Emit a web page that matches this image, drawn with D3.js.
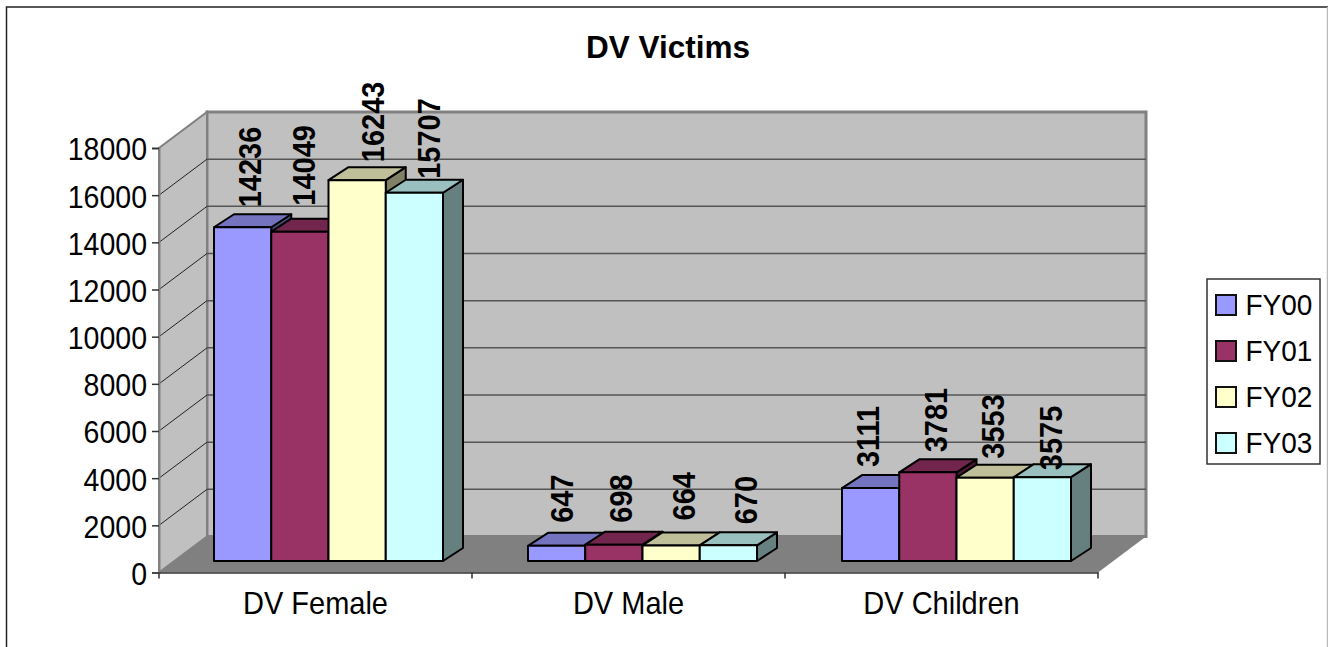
<!DOCTYPE html>
<html>
<head>
<meta charset="utf-8">
<script src="https://cdn.jsdelivr.net/npm/d3@7"></script>
<style>
    html, body { margin: 0; padding: 0; background: #fff; overflow: hidden; }
    text { font-family: "Liberation Sans", Arial, sans-serif; fill: #000; }
</style>
</head>
<body>
<div id="chart"></div>
<script>
const categories = ["DV Female", "DV Male", "DV Children"];
const seriesNames = ["FY00", "FY01", "FY02", "FY03"];
const seriesColors = ["#9999ff", "#993366", "#ffffcc", "#ccffff"];
const fy00 = [14236, 647, 3111];
const fy01 = [14049, 698, 3781];
const fy02 = [16243, 664, 3553];
const fy03 = [15707, 670, 3575];
const seriesValues = [fy00, fy01, fy02, fy03];
const yTicks = [0, 2000, 4000, 6000, 8000, 10000, 12000, 14000, 16000, 18000];

const width = 1328, height = 647;
const left = 159, right = 1098, top_ = 148, bottom = 572.5;
const wallDx = 48, wallDy = 36;   // profundidad de la caja 3D
const barDx = 20, barDy = 13;     // profundidad de cada barra
const barFloor = 561, barTop = 139;
const groupsLeft = 214, groupStep = 314, barWidth = 57.25;
const textStretch = "scale(1,1.07)";   // el texto original es algo mas alto que ancho

// Ajuste a mano de las etiquetas: una fila por categoria, una columna por serie
const labelDx = [[7, 4, 15.5, 14], [5.4, 7, 13, 17.6], [-3, 8, 8, 8]];
const labelGap = [[20, 26, 18, 14], [23, 22, 25, 21], [21, 20, 19, 7]];

const svg = d3.select("#chart").append("svg")
    .attr("width", width)
    .attr("height", height);

const x = d3.scaleBand().domain(categories).range([left, right]);
const xGroup = d3.scaleBand().domain(categories).range([groupsLeft, groupsLeft + groupStep * 3]);
const y = d3.scaleLinear().domain([0, 18000]).range([bottom, top_]);
const yBar = d3.scaleLinear().domain([0, 18000]).range([barFloor, barTop]);
const xBar = d3.scaleBand().domain(seriesNames).range([0, barWidth * 4]);

function poly(points) {
    return "M" + points.map(p => p.join(",")).join("L") + "Z";
}

// Marco exterior
svg.append("path")
    .attr("d", `M6.5,${height}V7H${width}`)
    .attr("fill", "none").attr("stroke", "#222").attr("stroke-width", 1.5);
svg.append("line")
    .attr("x1", width - 0.5).attr("x2", width - 0.5).attr("y1", 7).attr("y2", height)
    .attr("stroke", "#bbb").attr("stroke-width", 1.5);

svg.append("text")
    .attr("x", 668).attr("y", 57.5)
    .attr("text-anchor", "middle")
    .attr("font-size", 31.5).attr("font-weight", "bold")
    .text("DV Victims");

// Paredes y piso
svg.append("path")
    .attr("d", poly([[left + wallDx, y(0) - wallDy], [right + wallDx, y(0) - wallDy],
        [right + wallDx, y(18000) - wallDy], [left + wallDx, y(18000) - wallDy]]))
    .attr("fill", "#c0c0c0").attr("stroke", "#808080").attr("stroke-width", 3);
svg.append("path")
    .attr("d", poly([[left, y(0)], [left + wallDx, y(0) - wallDy],
        [left + wallDx, y(18000) - wallDy], [left, y(18000)]]))
    .attr("fill", "#c0c0c0").attr("stroke", "#808080").attr("stroke-width", 2);
svg.append("path")
    .attr("d", poly([[left, y(0)], [right, y(0)], [right + wallDx, y(0) - wallDy], [left + wallDx, y(0) - wallDy]]))
    .attr("fill", "#808080");

// Rejilla
const gridTicks = yTicks.filter(d => d > 0 && d < 18000);
svg.selectAll(".gridSide").data(gridTicks).enter().append("line")
    .attr("x1", left).attr("y1", d => y(d))
    .attr("x2", left + wallDx).attr("y2", d => y(d) - wallDy)
    .attr("stroke", "#222").attr("stroke-width", 1);
svg.selectAll(".gridBack").data(gridTicks).enter().append("line")
    .attr("x1", left + wallDx).attr("y1", d => y(d) - wallDy)
    .attr("x2", right + wallDx).attr("y2", d => y(d) - wallDy)
    .attr("stroke", "#555").attr("stroke-width", 1.5);

// Barras: de izquierda a derecha para que cada una tape a la anterior
function shade(color, k) {
    const c = d3.rgb(color);
    return d3.rgb(c.r * k, c.g * k, c.b * k).formatHex();
}

categories.forEach((cat, i) => {
    const x0 = xGroup(cat);
    const g = svg.append("g").attr("class", "group");
    seriesNames.forEach((name, s) => {
        const v = seriesValues[s][i];
        const xl = x0 + xBar(name), xr = xl + xBar.bandwidth();
        const yt = yBar(v);
        const bar = g.append("g").attr("stroke", "#000").attr("stroke-width", 2).attr("stroke-linejoin", "round");
        bar.append("path")
            .attr("d", poly([[xr, barFloor], [xr + barDx, barFloor - barDy], [xr + barDx, yt - barDy], [xr, yt]]))
            .attr("fill", shade(seriesColors[s], 0.5));
        bar.append("path")
            .attr("d", poly([[xl, yt], [xr, yt], [xr + barDx, yt - barDy], [xl + barDx, yt - barDy]]))
            .attr("fill", shade(seriesColors[s], 0.75));
        bar.append("path")
            .attr("d", poly([[xl, barFloor], [xr, barFloor], [xr, yt], [xl, yt]]))
            .attr("fill", seriesColors[s]);
    });
});

// Etiquetas de datos
categories.forEach((cat, i) => {
    const x0 = xGroup(cat);
    seriesNames.forEach((name, s) => {
        const v = seriesValues[s][i];
        const cx = x0 + xBar(name) + xBar.bandwidth() / 2 + labelDx[i][s];
        const cy = yBar(v) - labelGap[i][s];
        svg.append("text")
            .attr("transform", `translate(${cx},${cy}) rotate(-90) ${textStretch}`)
            .attr("dy", "0.36em")
            .attr("font-size", 29)
            .attr("font-weight", "bold")
            .text(v);
    });
});

// Ejes
const yAxis = svg.append("g")
    .attr("transform", `translate(${left},0)`)
    .call(d3.axisLeft(y).tickValues(yTicks).tickSize(7).tickPadding(5).tickFormat(d3.format("d")));
yAxis.select(".domain").attr("stroke", "#808080").attr("stroke-width", 2);
yAxis.selectAll(".tick line").attr("stroke", "#333").attr("stroke-width", 1.5);
yAxis.selectAll("text")
    .attr("font-size", 28.5).attr("font-family", "Liberation Sans").attr("fill", "#000")
    .attr("dy", "0.39em").attr("transform", textStretch);

const xAxis = svg.append("g")
    .attr("transform", `translate(0,${bottom})`)
    .call(d3.axisBottom(x).tickSize(0).tickPadding(18));
xAxis.select(".domain").attr("stroke", "#333").attr("stroke-width", 1.5);
xAxis.selectAll("text")
    .attr("font-size", 29).attr("font-family", "Liberation Sans").attr("fill", "#000")
    .attr("transform", textStretch);

const edges = categories.map(c => x(c)).concat([right]);
svg.selectAll(".xTick").data(edges).enter().append("line")
    .attr("x1", d => d).attr("x2", d => d)
    .attr("y1", bottom).attr("y2", bottom + 6)
    .attr("stroke", "#333").attr("stroke-width", 1.5);

// Leyenda
const legend = svg.append("g");
legend.append("rect")
    .attr("x", 1207).attr("y", 279).attr("width", 113).attr("height", 185)
    .attr("fill", "#fff").attr("stroke", "#333").attr("stroke-width", 1.5);
const legendY = d3.scalePoint().domain(seriesNames).range([305, 443]);
const legendRow = legend.selectAll(".row").data(seriesNames).enter().append("g")
    .attr("transform", d => `translate(1216,${legendY(d)})`);
legendRow.append("rect")
    .attr("x", 0).attr("y", -10).attr("width", 20).attr("height", 20)
    .attr("fill", (d, i) => seriesColors[i])
    .attr("stroke", "#111").attr("stroke-width", 2);
legendRow.append("text")
    .attr("x", 29.5).attr("dy", "0.33em")
    .attr("font-size", 28)
    .attr("transform", textStretch)
    .text(d => d);
</script>
</body>
</html>
